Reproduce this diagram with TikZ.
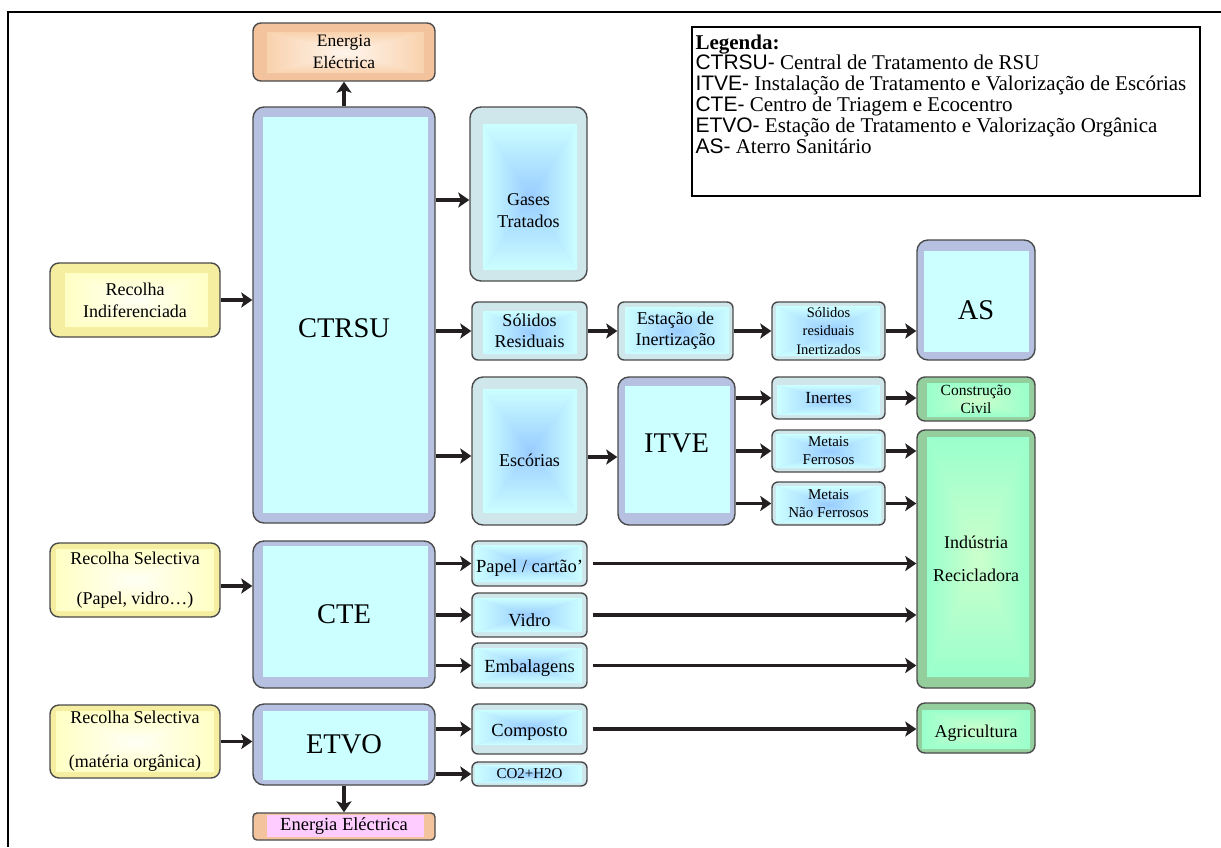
\documentclass[tikz,border=0pt]{standalone}
\usepackage{fontspec}
\setmainfont{Liberation Serif}
\newfontfamily\arialfont{Liberation Sans}
\usetikzlibrary{arrows.meta,calc}

\definecolor{rim}{HTML}{4A4A4A}
\definecolor{periR}{HTML}{B6C0E0}
\definecolor{cyanIn}{HTML}{CCFFFF}
\definecolor{blueR}{HTML}{CFE6EB}
\definecolor{blueC}{HTML}{99CCFF}
\definecolor{yelR}{HTML}{F5EDA0}
\definecolor{yelE}{HTML}{FFFFC4}
\definecolor{yelC}{HTML}{FFFFF6}
\definecolor{orR}{HTML}{F3C39E}
\definecolor{orE}{HTML}{F9D2AE}
\definecolor{orC}{HTML}{FFF6EE}
\definecolor{grR}{HTML}{95CE9D}
\definecolor{grE}{HTML}{99FFCC}
\definecolor{grC}{HTML}{CCFFCC}
\definecolor{pinkIn}{HTML}{FFCCFF}
\definecolor{arrowc}{HTML}{231F20}

\newcommand\fz[2]{\fontsize{#1pt}{#2pt}\selectfont}
% lower (or raise, with a negative value) a text without changing its box
\newcommand\dropby[2]{\raisebox{-#1pt}[\height][\depth]{#2}}

% inner panel margins (left/top/right/bottom)
\def\mL{9}\def\mT{9}\def\mR{8}\def\mB{9}

% corners of the inner panel of a box
\newcommand\innerpts{%
  \path (path picture bounding box.south west) ++(\mL,-\mB) coordinate (g1)
        (path picture bounding box.north east) ++(-\mR,\mT) coordinate (g3);
  \path (g1 -| g3) coordinate (g2) (g1 |- g3) coordinate (g4)
        ($(g1)!.5!(g3)$) coordinate (gc);}
% plain inner panel
\newcommand\flatin[1]{\innerpts\fill[#1, sharp corners] (g1) rectangle (g3);}
% inner panel with a rectangular gradient running from the edges (#1) to the centre (#2)
\newcommand\gradin[2]{\innerpts
  \fill[#1!50!#2, sharp corners] (g1) rectangle (g3);
  \shade[sharp corners, top color=#1, bottom color=#2] (g4) -- (g3) -- (gc) -- cycle;
  \shade[sharp corners, top color=#2, bottom color=#1] (g1) -- (g2) -- (gc) -- cycle;
  \shade[sharp corners, left color=#1, right color=#2] (g1) -- (g4) -- (gc) -- cycle;
  \shade[sharp corners, left color=#2, right color=#1] (g2) -- (g3) -- (gc) -- cycle;}

% box given by its corners: style, name, x1, y1, x2, y2, text
\newcommand\bx[7]{\node[#1, minimum width={(#5-#3)*1pt}, minimum height={(#6-#4)*1pt}]
  (#2) at ({(#3+#5)/2},{(#4+#6)/2}) {#7};}

\tikzset{
  pad/.code args={#1/#2/#3/#4}{\def\mL{#1}\def\mT{#2}\def\mR{#3}\def\mB{#4}},
  box/.style={draw=rim, line width=1.4pt, rounded corners=7pt, inner sep=0pt,
              align=center, text=black},
  peri/.style={box, rounded corners=11pt, fill=periR, path picture={\flatin{cyanIn}},
               font=\fz{28.5}{32}},
  bluebig/.style={box, rounded corners=11pt, fill=blueR, path picture={\gradin{cyanIn}{blueC}}},
  bluesm/.style={box, rounded corners=6pt, fill=blueR, path picture={\gradin{cyanIn}{blueC}}},
  yel/.style={box, rounded corners=9pt, fill=yelR, path picture={\gradin{yelE}{yelC}},
              font=\fz{18}{22}},
  orng/.style={box, rounded corners=8pt, fill=orR, path picture={\gradin{orE}{orC}}},
  grn/.style={box, rounded corners=8pt, fill=grR, path picture={\gradin{grE}{grC}}},
  pnk/.style={box, rounded corners=4pt, fill=orR, path picture={\flatin{pinkIn}}},
  arr/.style={draw=arrowc, line width=3.6pt,
              -{Stealth[length=11pt, width=15pt, inset=2.5pt]}},
  frame/.style={draw=black, line width=1.3pt},
}

\begin{document}
\begin{tikzpicture}[x=1pt, y=-1pt]
\useasboundingbox (0,0) rectangle (1221,847);
\draw[frame] (1221,12) -- (8,12) -- (8,847);

% ---- incineration line
\bx{orng, pad=14/9/11/8, font=\fz{17.5}{21.5}}{eeT}{253}{23}{435}{81}{Energia\\Eléctrica}
\bx{peri, pad=10/10/7/10}{ctrsu}{253}{107}{435}{523}{\dropby{13}{CTRSU}}
\bx{yel, pad=15/10/12/10}{rInd}{50}{263}{220}{337}{Recolha\\Indiferenciada}
\bx{bluebig, pad=13/17/10/11, font=\fz{18}{22}}{gases}{470}{107}{587}{281}%
   {\dropby{17}{\parbox{100pt}{\centering Gases\\Tratados}}}
\bx{bluesm, pad=11/9/10/6, font=\fz{18}{21}}{sol}{472}{302}{587}{360}{Sólidos\\Residuais}
\bx{bluesm, pad=7/5/4/6, font=\fz{18}{21}}{est}{618}{302}{733}{360}{Estação de\\Inertização}
\bx{bluesm, pad=4/4/5/4, font=\fz{14.5}{18.5}}{sri}{772}{302}{885}{360}{Sólidos\\residuais\\Inertizados}
\bx{peri, pad=7/11/6/8}{as}{917}{240}{1035}{360}{\dropby{10}{AS}}
\bx{bluebig, pad=11/12/10/12, font=\fz{18}{22}}{esc}{472}{377}{587}{525}{\dropby{9}{Escórias}}
\bx{peri, pad=7/9/5/12}{itve}{618}{377}{735}{525}{\dropby{-8}{ITVE}}
\bx{bluesm, pad=5/8/5/4, font=\fz{17}{20}}{ine}{772}{377}{885}{419}{Inertes}
\bx{bluesm, pad=4/4/4/4, font=\fz{15}{18}}{mf}{772}{430}{885}{472}{Metais\\Ferrosos}
\bx{bluesm, pad=4/4/4/2, font=\fz{15}{18}}{mnf}{772}{482}{885}{525}{Metais\\Não Ferrosos}
\bx{grn, pad=10/6/6/4, font=\fz{15.5}{18}}{cc}{917}{377}{1035}{421}{Construção\\Civil}
\bx{grn, pad=10/7/6/11, font=\fz{18}{22}}{ind}{917}{430}{1035}{688}{Indústria\\[11pt]Recicladora}

% ---- selective collection line
\bx{yel, pad=6/6/6/6}{rSel}{50}{543}{220}{617}{Recolha Selectiva\\[18pt](Papel, vidro…)}
\bx{peri, pad=10/5/7/11}{cte}{253}{541}{435}{688}{CTE}
\bx{bluesm, pad=3/4/5/4, font=\fz{18.5}{21}}{pap}{472}{541}{587}{586}{\dropby{5}{Papel / cartão'}}
\bx{bluesm, pad=3/5/5/5, font=\fz{18.5}{21}}{vid}{472}{593}{587}{637}{\dropby{5}{Vidro}}
\bx{bluesm, pad=3/5/5/5, font=\fz{18.5}{21}}{emb}{472}{643}{587}{688}{\dropby{3}{Embalagens}}

% ---- organic line
\bx{yel, pad=6/6/6/6}{rOrg}{50}{705}{220}{778}{Recolha Selectiva\\[22pt](matéria orgânica)}
\bx{peri, pad=10/7/7/5}{etvo}{253}{704}{435}{785}{ETVO}
\bx{bluesm, pad=3/6/5/9, font=\fz{18.5}{21}}{comp}{472}{704}{587}{754}{\dropby{3}{Composto}}
\bx{bluesm, pad=3/3/5/3, font=\fz{15}{18}}{co2}{472}{762}{587}{786}{CO2+H2O}
\bx{grn, pad=5/7/5/4, font=\fz{18}{21}}{agr}{917}{703}{1035}{753}{\dropby{5}{Agricultura}}
\bx{pnk, pad=14/2/11/3, font=\fz{18.5}{21}}{eeB}{253}{813}{435}{840}{Energia Eléctrica}

% ---- legend
\node[draw=black, line width=1.4pt, minimum width=508pt, minimum height=169pt, inner sep=0pt]
  (leg) at (946,111.5) {};
\node[anchor=north west, align=left, inner sep=0pt, font=\fz{21}{20.8}] (legtxt)
  at ($(leg.north west)+(4,8)$) {%
  \textbf{Legenda:}\\
  {\arialfont CTRSU-} Central de Tratamento de RSU\\
  {\arialfont ITVE-} Instalação de Tratamento e Valorização de Escórias\\
  {\arialfont CTE-} Centro de Triagem e Ecocentro\\
  {\arialfont ETVO-} Estação de Tratamento e Valorização Orgânica\\
  {\arialfont AS-} Aterro Sanitário};

% ---- connectors
\coordinate (gIn) at ([yshift=-6pt]gases.west);
\coordinate (eIn) at ([yshift=-5pt]esc.west);
\coordinate (eOut) at ([yshift=-6pt]esc.east);
\coordinate (sOut) at ([yshift=-6pt]rSel.east);

\draw[arr] (ctrsu.north) -- (eeT.south);
\draw[arr] (rInd.east) -- (rInd.east -| ctrsu.west);
\draw[arr] (ctrsu.east |- gIn) -- (gIn);
\draw[arr] (ctrsu.east |- sol.west) -- (sol.west);
\draw[arr] (ctrsu.east |- eIn) -- (eIn);
\draw[arr] (sol.east) -- (est.west);
\draw[arr] (est.east) -- (sri.west);
\draw[arr] (sri.east) -- (sri.east -| as.west);
\draw[arr] (eOut) -- (eOut -| itve.west);
\draw[arr] (itve.east |- ine.west) -- (ine.west);
\draw[arr] (itve.east |- mf.west) -- (mf.west);
\draw[arr] (itve.east |- mnf.west) -- (mnf.west);
\draw[arr] (ine.east) -- (ine.east -| cc.west);
\draw[arr] (mf.east) -- (mf.east -| ind.west);
\draw[arr] (mnf.east) -- (mnf.east -| ind.west);

\draw[arr] (sOut) -- (sOut -| cte.west);
\draw[arr] (cte.east |- pap.west) -- (pap.west);
\draw[arr] (cte.east |- vid.west) -- (vid.west);
\draw[arr] (cte.east |- emb.west) -- (emb.west);
\draw[arr] ([xshift=5pt]pap.east) -- (pap.east -| ind.west);
\draw[arr] ([xshift=5pt]vid.east) -- (vid.east -| ind.west);
\draw[arr] ([xshift=5pt]emb.east) -- (emb.east -| ind.west);

\draw[arr] (rOrg.east) -- (rOrg.east -| etvo.west);
\draw[arr] (etvo.east |- comp.west) -- (comp.west);
\draw[arr] (etvo.east |- co2.west) -- (co2.west);
\draw[arr] ([xshift=5pt]comp.east) -- (comp.east -| agr.west);
\draw[arr] (etvo.south) -- (eeB.north);
\end{tikzpicture}
\end{document}
